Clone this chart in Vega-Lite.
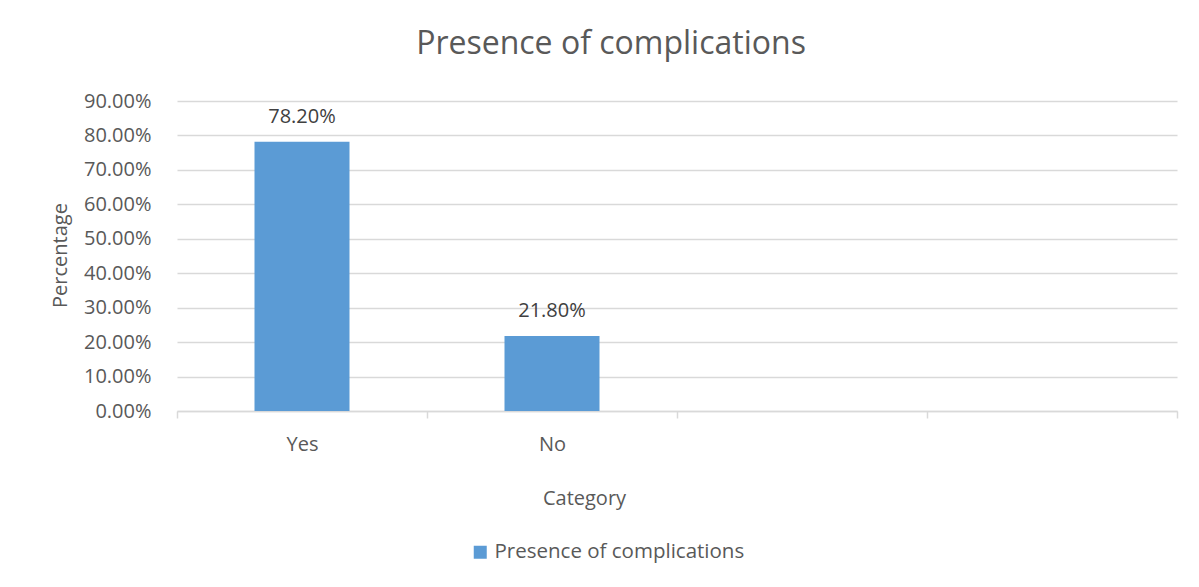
{
  "$schema": "https://vega.github.io/schema/vega-lite/v6.json",
  "width": 1000,
  "height": 310,
  "autosize": "none",
  "padding": {"left": 177, "top": 101, "right": 22, "bottom": 176},
  "background": "white",
  "config": {
    "font": "Open Sans",
    "view": {"stroke": null}
  },
  "title": {
    "text": "Presence of complications",
    "fontSize": 32,
    "fontWeight": "normal",
    "color": "#595959",
    "anchor": "middle",
    "dx": -66,
    "offset": 30
  },
  "data": {
    "values": [
      {"category": "Yes", "value": 0.782, "series": "Presence of complications"},
      {"category": "No", "value": 0.218, "series": "Presence of complications"}
    ]
  },
  "encoding": {
    "x": {
      "field": "category",
      "type": "nominal",
      "sort": null,
      "scale": {"domain": ["Yes", "No", " ", "  "], "paddingInner": 0, "paddingOuter": 0},
      "axis": {
        "title": "Category",
        "titleFontSize": 20,
        "titleFontWeight": "normal",
        "titleColor": "#595959",
        "titleX": 407,
        "titleY": 87,
        "titleBaseline": "middle",
        "labelAngle": 0,
        "labelFontSize": 20,
        "labelColor": "#595959",
        "labelPadding": 16,
        "domainColor": "#d9d9d9",
        "domainWidth": 1.5,
        "tickColor": "#d9d9d9",
        "tickWidth": 1.5,
        "tickSize": 7,
        "tickBand": "extent",
        "grid": false
      }
    },
    "y": {
      "field": "value",
      "type": "quantitative",
      "scale": {"domain": [0, 0.9]},
      "axis": {
        "title": "Percentage",
        "titleFontSize": 20,
        "titleFontWeight": "normal",
        "titleColor": "#595959",
        "titleX": -117,
        "titleY": 154,
        "titleBaseline": "middle",
        "values": [0, 0.1, 0.2, 0.3, 0.4, 0.5, 0.6, 0.7, 0.8, 0.9],
        "format": ".2%",
        "labelFontSize": 20,
        "labelColor": "#595959",
        "labelPadding": 26,
        "ticks": false,
        "domain": false,
        "grid": true,
        "gridColor": "#d9d9d9",
        "gridWidth": 1.5
      }
    }
  },
  "layer": [
    {
      "mark": {"type": "bar", "width": {"band": 0.38}},
      "encoding": {
        "color": {
          "field": "series",
          "type": "nominal",
          "scale": {"range": ["#5b9bd5"]},
          "legend": {
            "title": null,
            "orient": "none",
            "legendX": 293,
            "legendY": 441,
            "symbolType": "square",
            "symbolSize": 169,
            "symbolStrokeWidth": 0,
            "labelFontSize": 20.5,
            "labelLimit": 500,
            "labelColor": "#595959",
            "labelOffset": 4
          }
        }
      }
    },
    {
      "mark": {"type": "text", "dy": -25, "fontSize": 20, "color": "#404040"},
      "encoding": {
        "text": {"field": "value", "type": "quantitative", "format": ".2%"}
      }
    }
  ]
}
